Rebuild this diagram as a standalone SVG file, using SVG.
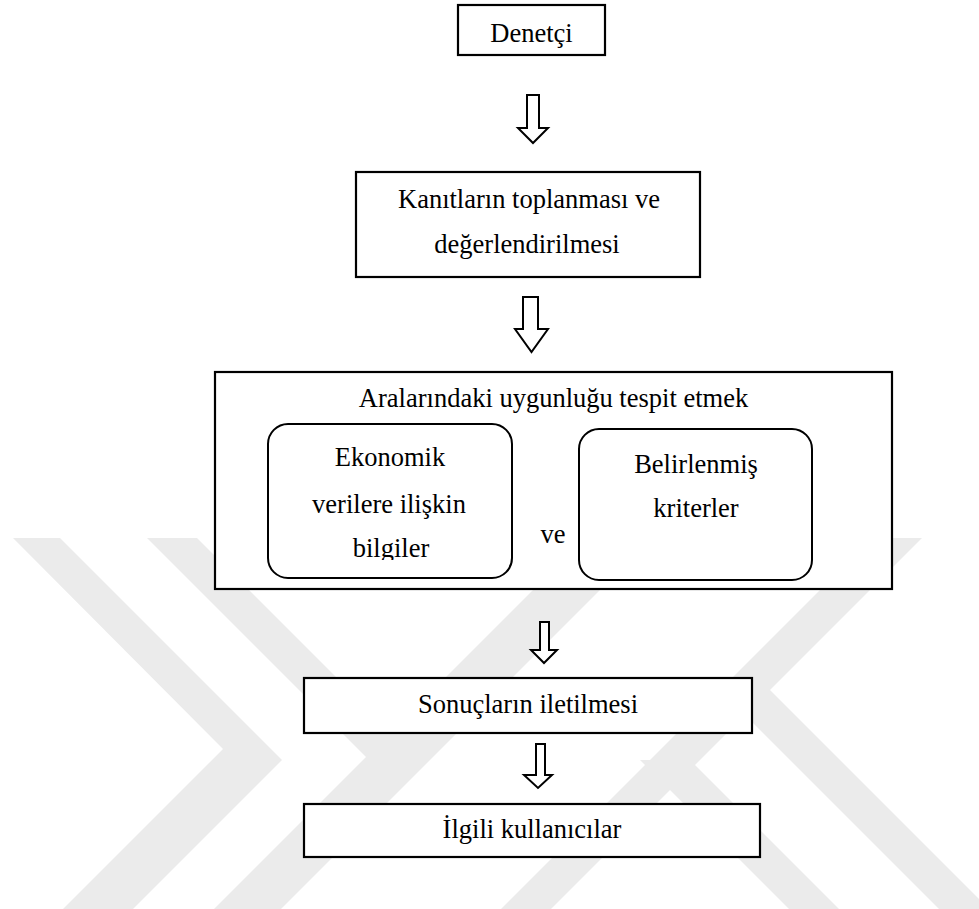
<svg xmlns="http://www.w3.org/2000/svg" width="979" height="909" viewBox="0 0 979 909">
<style>
.box{fill:#fff;stroke:#000;stroke-width:2.2}
.rbox{fill:#fff;stroke:#000;stroke-width:2}
.arrow{fill:#fff;stroke:#000;stroke-width:2;stroke-linejoin:miter}
.t{font-family:"Liberation Serif","Times New Roman",serif;font-size:26.5px;fill:#000;text-anchor:middle}
.wm{fill:#ebebeb}
</style>
<defs>
<clipPath id="clipL"><rect x="268" y="424" width="244" height="136"/></clipPath>
</defs>
<rect width="979" height="909" fill="#fff"/>
<g id="watermark">
<polygon class="wm" points="13,538 60,538 282,760 133,909 63,909 223,749"/>
<polygon class="wm" points="147,538 197,538 420,761 370,761"/>
<polygon class="wm" points="214,909 281,909 652,538 585,538"/>
<polygon class="wm" points="501,909 551,909 922,538 872,538"/>
<polygon class="wm" points="640,760 690,760 839,909 789,909"/>
<polygon class="wm" points="720,690 770,690 979,899 979,909 939,909"/>
</g>
<g id="node-denetci">
<rect class="box" x="458" y="5" width="147" height="50"/>
<text class="t" x="531.5" y="42">Denetçi</text>
</g>
<g id="node-kanit">
<rect class="box" x="356" y="172" width="344" height="105"/>
<text class="t" x="529" y="208">Kanıtların toplanması ve</text>
<text class="t" x="527" y="253">değerlendirilmesi</text>
</g>
<g id="node-uygunluk">
<rect class="box" x="215" y="372" width="677" height="217"/>
<text class="t" x="553.5" y="407">Aralarındaki uygunluğu tespit etmek</text>
<text class="t" x="553" y="543">ve</text>
</g>
<g id="node-ekonomik">
<rect class="rbox" x="268" y="424" width="244" height="154" rx="20" ry="20"/>
<g clip-path="url(#clipL)">
<text class="t" x="390" y="466">Ekonomik</text>
<text class="t" x="389" y="513">verilere ilişkin</text>
<text class="t" x="391" y="557">bilgiler</text>
</g>
</g>
<g id="node-kriterler">
<rect class="rbox" x="579" y="429" width="233" height="151" rx="20" ry="20"/>
<text class="t" x="696" y="473">Belirlenmiş</text>
<text class="t" x="696" y="517">kriterler</text>
</g>
<g id="node-sonuc">
<rect class="box" x="304" y="678" width="448" height="55"/>
<text class="t" x="528" y="713">Sonuçların iletilmesi</text>
</g>
<g id="node-ilgili">
<rect class="box" x="304" y="804" width="456" height="53"/>
<text class="t" x="532" y="838">İlgili kullanıcılar</text>
</g>
<g id="connectors">
<polygon class="arrow" points="527,95 539,95 539,128 548,128 533,143 518,128 527,128"/>
<polygon class="arrow" points="523,297 538,297 538,329 548,329 531.5,352 515,329 523,329"/>
<polygon class="arrow" points="540,622 549,622 549,650 557,650 544,663 531,650 540,650"/>
<polygon class="arrow" points="536,744 545,744 545,775 552,775 538,788 524,775 536,775"/>
</g>
</svg>
